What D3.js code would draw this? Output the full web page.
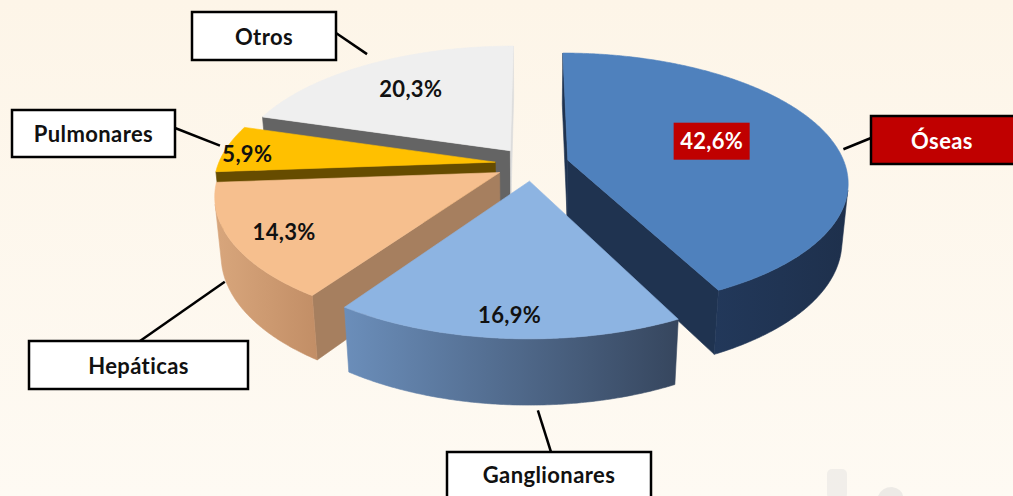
<!DOCTYPE html>
<html>

<head>
    <meta charset="utf-8">
    <style>
        html, body {
            margin: 0;
            padding: 0;
            overflow: hidden;
        }

        svg {
            display: block;
            font-family: Lato, 'Open Sans', sans-serif;
        }
    </style>
</head>

<body>
    <svg width="1013" height="496"></svg>
</body>

<script src="https://d3js.org/d3.v7.min.js"></script>

<script>
    // data
    const categories = ["Óseas", "Ganglionares", "Hepáticas", "Pulmonares", "Otros"];
    const values = [42.6, 16.9, 14.3, 5.9, 20.3];
    const valueLabels = ["42,6%", "16,9%", "14,3%", "5,9%", "20,3%"];

    // look of each slice (top face, the two cut faces, outer side gradient)
    const faceColors = {
        "Óseas": { top: "#4F81BD", cutStart: "#1F3350", cutEnd: "#1F3350", side: ["#22385A", "#1E304C"] },
        "Ganglionares": { top: "#8DB4E2", cutStart: "#4A6285", cutEnd: "#4A6285", side: ["#6B8EBA", "#36465E"] },
        "Hepáticas": { top: "#F6BF8E", cutStart: "#A67F5F", cutEnd: "#A67F5F", side: ["#D8A67C", "#C28E66"] },
        "Pulmonares": { top: "#FFC000", cutStart: "#664C00", cutEnd: "#664C00", side: ["#CC9A00", "#B38600"] },
        "Otros": { top: "#EFEFEF", cutStart: "#646464", cutEnd: "#DCDCDC", side: ["#BFBFBF", "#A6A6A6"] }
    };

    // where the value label sits: fraction of the radius from the slice apex, plus a nudge down
    const labelPlace = {
        "Óseas": { r: 0.55, dy: 0 },
        "Ganglionares": { r: 0.89, dy: 0 },
        "Hepáticas": { r: 0.82, dy: 6 },
        "Pulmonares": { r: 0.92, dy: 8 },
        "Otros": { r: 0.68, dy: 3 }
    };

    // name boxes and where their leader line touches the slice
    const callouts = {
        "Otros": { box: [192, 12, 144, 48], from: [336, 33], at: { deg: 326, r: 1.1, z: 0 } },
        "Pulmonares": { box: [12, 110, 163, 47], from: [175, 128], at: { deg: 277.5, r: 1.03, z: 0 } },
        "Hepáticas": { box: [29, 341, 219, 48], from: [140, 341], at: { deg: 247, r: 1.01, z: 0.9 } },
        "Óseas": { box: [871, 116, 160, 48], from: [871, 138], at: { deg: 85, r: 1.02, z: 0 } },
        "Ganglionares": { box: [447, 452, 204, 50], from: [551, 452], at: { deg: 178.5, r: 1.01, z: 1.05 } }
    };

    let width = 1013;
    let height = 496;

    // 3d set-up: pie plane (u right, v away), z up; top face at z = 0
    let cx = 532, cy = 164;
    let R = 277, H = 66, explode = 37, F = 1513;
    let tilt = 27 * Math.PI / 180;
    let sa = Math.sin(tilt), ca = Math.cos(tilt);

    function project(u, v, z) {
        let Y = v * sa + z * ca;
        let D = v * ca - z * sa;
        let s = F / (F + D);
        return [cx + u * s, cy - Y * s];
    }

    // camera position in pie coordinates, for back-face tests
    let cam = [0, -F * ca, F * sa];
    function facing(p, n) {
        return (cam[0] - p[0]) * n[0] + (cam[1] - p[1]) * n[1] > 0;
    }

    let svg = d3.select("svg");
    let defs = svg.append("defs");

    let bg = defs.append("linearGradient")
        .attr("id", "bg")
        .attr("x1", 0).attr("y1", 0).attr("x2", 0).attr("y2", 1);
    bg.append("stop").attr("offset", 0).attr("stop-color", "#FDF5E8");
    bg.append("stop").attr("offset", 1).attr("stop-color", "#FEFAF3");

    svg.append("rect")
        .attr("width", width)
        .attr("height", height)
        .style("fill", "url(#bg)");

    // faint clip art in the corner
    let deco = svg.append("g").style("opacity", 0.35);
    deco.append("rect").attr("x", 827).attr("y", 469).attr("width", 20).attr("height", 30).attr("rx", 5)
        .style("fill", "#DADADA");
    deco.append("path").attr("d", "M878,496 Q882,487 892,487 Q902,489 903,496 Z").style("fill", "#CFCFCF");

    let pie = d3.pie().sort(null).startAngle(0).endAngle(2 * Math.PI);
    let arcs = pie(values).map((d, i) => {
        let mid = (d.startAngle + d.endAngle) / 2;
        return {
            name: categories[i],
            label: valueLabels[i],
            a0: d.startAngle,
            a1: d.endAngle,
            mid: mid,
            ou: explode * Math.sin(mid),
            ov: explode * Math.cos(mid)
        };
    });

    function rim(s, t, r, z) {
        return [s.ou + r * Math.sin(t), s.ov + r * Math.cos(t), z];
    }

    // centroid depth, far slices first
    arcs.forEach(s => {
        let half = (s.a1 - s.a0) / 2;
        let dist = 2 * R * Math.sin(half) / (3 * half);
        s.depth = s.ov + dist * Math.cos(s.mid);
    });
    let order = arcs.slice().sort((a, b) => b.depth - a.depth);

    let line = d3.line();
    let pieG = svg.append("g");
    let step = Math.PI / 360;

    order.forEach(s => {
        let col = faceColors[s.name];
        let g = pieG.append("g").attr("class", "slice");
        let apexTop = [s.ou, s.ov, 0];
        let apexBot = [s.ou, s.ov, -H];

        // cut faces
        let cuts = [
            { t: s.a0, n: [Math.sin(s.a0 - Math.PI / 2), Math.cos(s.a0 - Math.PI / 2)], fill: col.cutStart },
            { t: s.a1, n: [Math.sin(s.a1 + Math.PI / 2), Math.cos(s.a1 + Math.PI / 2)], fill: col.cutEnd }
        ];
        cuts.forEach(c => {
            if (!facing(apexTop, c.n)) return;
            let pts = [apexTop, rim(s, c.t, R, 0), rim(s, c.t, R, -H), apexBot].map(p => project(...p));
            g.append("path")
                .attr("d", line(pts) + "Z")
                .style("fill", c.fill)
                .style("stroke", c.fill)
                .style("stroke-width", 0.6);
        });

        // outer curved side, only the part turned to the viewer
        let ts = [];
        for (let t = s.a0; t < s.a1; t += step) ts.push(t);
        ts.push(s.a1);
        let vis = ts.filter(t => facing(rim(s, t, R, 0), [Math.sin(t), Math.cos(t)]));
        if (vis.length > 1) {
            let top = vis.map(t => project(...rim(s, t, R, 0)));
            let bot = vis.slice().reverse().map(t => project(...rim(s, t, R, -H)));
            let xs = top.concat(bot).map(p => p[0]);
            let gid = "side" + categories.indexOf(s.name);
            let grad = defs.append("linearGradient")
                .attr("id", gid)
                .attr("gradientUnits", "userSpaceOnUse")
                .attr("x1", d3.min(xs)).attr("x2", d3.max(xs))
                .attr("y1", 0).attr("y2", 0);
            grad.append("stop").attr("offset", 0).attr("stop-color", col.side[0]);
            grad.append("stop").attr("offset", 1).attr("stop-color", col.side[1]);
            g.append("path")
                .attr("d", line(top.concat(bot)) + "Z")
                .style("fill", "url(#" + gid + ")")
                .style("stroke", "url(#" + gid + ")")
                .style("stroke-width", 0.6);
        }

        // top face
        let topPts = [project(...apexTop)].concat(ts.map(t => project(...rim(s, t, R, 0))));
        g.append("path")
            .attr("d", line(topPts) + "Z")
            .style("fill", col.top)
            .style("stroke", col.top)
            .style("stroke-width", 0.6);
    });

    // value labels on the slices
    let labelG = svg.append("g");
    arcs.forEach(s => {
        let lp = labelPlace[s.name];
        let p = project(...rim(s, s.mid, R * lp.r, 0));
        let y = p[1] + lp.dy;
        if (s.name == "Óseas") {
            labelG.append("rect")
                .attr("x", p[0] - 38)
                .attr("y", y - 22)
                .attr("width", 76)
                .attr("height", 37)
                .style("fill", "#C00000");
        }
        labelG.append("text")
            .attr("x", p[0])
            .attr("y", y - 4)
            .attr("text-anchor", "middle")
            .attr("dominant-baseline", "central")
            .style("font-size", "22px")
            .style("letter-spacing", "0.3px")
            .style("font-weight", "bold")
            .style("fill", s.name == "Óseas" ? "#FFFFFF" : "#111111")
            .text(s.label);
    });

    // category boxes with leader lines
    let calloutG = svg.append("g");
    arcs.forEach(s => {
        let c = callouts[s.name];
        let t = c.at.deg * Math.PI / 180;
        let end = project(...rim(s, t, R * c.at.r, -H * c.at.z));

        calloutG.append("line")
            .attr("x1", c.from[0]).attr("y1", c.from[1])
            .attr("x2", end[0]).attr("y2", end[1])
            .style("stroke", "#000")
            .style("stroke-width", 2.5);

        calloutG.append("rect")
            .attr("x", c.box[0])
            .attr("y", c.box[1])
            .attr("width", c.box[2])
            .attr("height", c.box[3])
            .style("fill", s.name == "Óseas" ? "#C00000" : "#FFFFFF")
            .style("stroke", "#000")
            .style("stroke-width", 2.5);

        let tx = s.name == "Óseas" ? 942 : c.box[0] + c.box[2] / 2;
        calloutG.append("text")
            .attr("x", tx)
            .attr("y", s.name == "Ganglionares" ? c.box[1] + 22 : c.box[1] + c.box[3] / 2)
            .attr("text-anchor", "middle")
            .attr("dominant-baseline", "central")
            .style("font-size", "22px")
            .style("letter-spacing", "0.4px")
            .style("font-weight", "bold")
            .style("fill", s.name == "Óseas" ? "#FFFFFF" : "#111111")
            .text(s.name);
    });

</script>

</html>
